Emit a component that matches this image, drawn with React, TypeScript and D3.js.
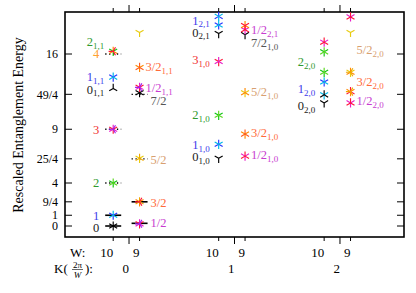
import React, { useRef, useEffect } from 'react';
import * as d3 from 'd3';

const width = 416;
const height = 293;

// momentum sectors and system widths
const kValues = [0, 1, 2];
const wValues = [10, 9];

const yTickValues = [0, 1, 9 / 4, 4, 25 / 4, 9, 49 / 4, 16];
const yTickLabels = ['0', '1', '9/4', '4', '25/4', '9', '49/4', '16'];

const C = {
  black: '#000000',
  blue: '#2436ff',
  cyan: '#00b8e8',
  green: '#12c412',
  lime: '#5ad81e',
  red: '#ff1438',
  magenta: '#e81cc8',
  purple: '#a020f0',
  orange: '#ff8a00',
  orangered: '#ff5a1e',
  yellow: '#e8cc10',
  gold: '#f0a800',
};

// [K, W, value, colours, base orientation]
const markers: [number, number, number, string[], string][] = [
  [0, 10, 0, [C.black, C.black], 'down'],
  [0, 10, 1, [C.blue, C.cyan], 'down'],
  [0, 10, 4, [C.green, C.lime], 'down'],
  [0, 10, 9, [C.red, C.magenta, C.purple], 'down'],
  [0, 10, 16.25, [C.green, C.orange, C.red], 'down'],
  [0, 10, 13.85, [C.blue, C.cyan], 'down'],
  [0, 10, 12.8, [C.black], 'up'],
  [0, 9, 0.2, [C.red, C.magenta, C.purple], 'down'],
  [0, 9, 2.25, [C.orange, C.gold, C.red], 'down'],
  [0, 9, 6.3, [C.yellow, C.gold], 'down'],
  [0, 9, 12.4, [C.black, C.black], 'down'],
  [0, 9, 12.9, [C.red, C.magenta, C.purple], 'down'],
  [0, 9, 14.75, [C.orange, C.orangered], 'down'],
  [0, 9, 18.0, [C.yellow], 'down'],
  [1, 10, 6.3, [C.black], 'down'],
  [1, 10, 7.6, [C.blue, C.cyan], 'up'],
  [1, 10, 10.3, [C.green, C.lime], 'down'],
  [1, 10, 15.3, [C.red, C.magenta], 'down'],
  [1, 10, 17.9, [C.black], 'down'],
  [1, 10, 18.7, [C.blue, C.cyan], 'down'],
  [1, 10, 19.5, [C.blue, C.cyan], 'up'],
  [1, 9, 6.5, [C.magenta, C.red], 'down'],
  [1, 9, 8.55, [C.orange, C.orangered], 'down'],
  [1, 9, 12.4, [C.yellow, C.orange], 'down'],
  [1, 9, 17.8, [C.black], 'down'],
  [1, 9, 18.25, [C.magenta, C.red], 'down'],
  [1, 9, 18.65, [C.orange, C.red], 'up'],
  [2, 10, 11.45, [C.black], 'down'],
  [2, 10, 12.2, [C.cyan, C.black], 'down'],
  [2, 10, 13.4, [C.blue, C.cyan], 'down'],
  [2, 10, 14.3, [C.green, C.lime], 'down'],
  [2, 10, 16.2, [C.green, C.lime], 'down'],
  [2, 10, 17.1, [C.magenta, C.red], 'down'],
  [2, 9, 11.45, [C.magenta, C.red], 'down'],
  [2, 9, 12.5, [C.orange, C.red, C.gold], 'down'],
  [2, 9, 14.3, [C.yellow, C.orange, C.gold], 'down'],
  [2, 9, 18.0, [C.yellow], 'down'],
  [2, 9, 19.45, [C.magenta, C.red], 'down'],
];

// CFT reference levels: [K, W, value, style]
const refLines: [number, number, number, string][] = [
  [0, 10, 0, 'solid'],
  [0, 10, 1, 'solid'],
  [0, 10, 4, 'dot'],
  [0, 10, 9, 'dot'],
  [0, 10, 16, 'dot'],
  [0, 9, 0.25, 'solid'],
  [0, 9, 2.25, 'solid'],
  [0, 9, 6.25, 'dot'],
  [0, 9, 12.25, 'dot'],
];

const L = {
  black: '#1a1a1a',
  blue: '#3b3bea',
  green: '#2f9a2f',
  red: '#f03232',
  orange: '#ffa030',
  orangered: '#ff6a3a',
  tan: '#d8a070',
  magenta: '#c83cd0',
  gray: '#555555',
};

// level labels: [K, W, value, main, subscript, colour]
const labels: [number, number, number, string, string, string][] = [
  [0, 10, 17.12, '2', '1,1', L.green],
  [0, 10, 16.0, '4', '', L.orange],
  [0, 10, 13.86, '1', '1,1', L.blue],
  [0, 10, 12.7, '0', '1,1', L.black],
  [0, 10, 8.93, '3', '', L.red],
  [0, 10, 4.0, '2', '', L.green],
  [0, 10, 0.93, '1', '', L.blue],
  [0, 10, -0.14, '0', '', L.black],
  [0, 9, 14.79, '3/2', '1,1', L.orangered],
  [0, 9, 12.84, '1/2', '1,1', L.magenta],
  [0, 9, 11.63, '7/2', '', L.gray],
  [0, 9, 6.14, '5/2', '', L.tan],
  [0, 9, 2.14, '3/2', '', L.orangered],
  [0, 9, 0.28, '1/2', '', L.magenta],
  [1, 10, 19.1, '1', '2,1', L.blue],
  [1, 10, 18.0, '0', '2,1', L.black],
  [1, 10, 15.44, '3', '1,0', L.red],
  [1, 10, 10.33, '2', '1,0', L.green],
  [1, 10, 7.53, '1', '1,0', L.blue],
  [1, 10, 6.42, '0', '1,0', L.black],
  [1, 9, 18.23, '1/2', '2,1', L.magenta],
  [1, 9, 17.02, '7/2', '1,0', L.gray],
  [1, 9, 12.47, '5/2', '1,0', L.tan],
  [1, 9, 8.65, '3/2', '1,0', L.orangered],
  [1, 9, 6.6, '1/2', '1,0', L.magenta],
  [2, 10, 15.26, '2', '2,0', L.green],
  [2, 10, 12.74, '1', '2,0', L.blue],
  [2, 10, 11.16, '0', '2,0', L.black],
  [2, 9, 16.37, '5/2', '2,0', L.tan],
  [2, 9, 13.4, '3/2', '2,0', L.orangered],
  [2, 9, 11.63, '1/2', '2,0', L.magenta],
];

const font = '"Liberation Serif", "DejaVu Serif", serif';

export default function App() {
  const ref = useRef<SVGSVGElement>(null);

  useEffect(() => {
    const svg = d3.select(ref.current);
    svg.selectAll('*').remove();

    const left = 65, right = 404, top = 12, bottom = 237;

    const x = d3.scaleLinear().domain([-0.607, 2.607]).range([left, right]);
    const wShift = d3.scaleLinear().domain([9, 10]).range([0.1, -0.15]);
    const y = d3.scaleLinear().domain([-1.023, 19.907]).range([bottom, top]);
    const colX = (k: number, w: number) => x(k + wShift(w));

    const g = svg.append('g');

    // frame
    g.append('rect')
      .attr('x', left).attr('y', top)
      .attr('width', right - left).attr('height', bottom - top)
      .attr('fill', 'none').attr('stroke', '#000').attr('stroke-width', 1.6);

    // y ticks inside on both sides
    yTickValues.forEach((v, i) => {
      g.append('line').attr('x1', left).attr('x2', left + 7)
        .attr('y1', y(v)).attr('y2', y(v)).attr('stroke', '#000').attr('stroke-width', 1);
      g.append('line').attr('x1', right - 7).attr('x2', right)
        .attr('y1', y(v)).attr('y2', y(v)).attr('stroke', '#000').attr('stroke-width', 1);
      g.append('text').attr('x', left - 7).attr('y', y(v) + 4.2)
        .attr('text-anchor', 'end').attr('font-family', font).attr('font-size', 12)
        .text(yTickLabels[i]);
    });

    // x ticks outside top and bottom
    kValues.forEach(k => {
      [bottom, top].forEach(edge => {
        const dir = edge === bottom ? 1 : -1;
        g.append('line').attr('x1', x(k)).attr('x2', x(k))
          .attr('y1', edge).attr('y2', edge + dir * 7)
          .attr('stroke', '#000').attr('stroke-width', 1);
        wValues.forEach(w => {
          g.append('line').attr('x1', colX(k, w)).attr('x2', colX(k, w))
            .attr('y1', edge).attr('y2', edge + dir * 4)
            .attr('stroke', '#000').attr('stroke-width', 1);
        });
      });
      wValues.forEach(w => {
        g.append('text').attr('x', colX(k, w)).attr('y', 257)
          .attr('text-anchor', 'end').attr('font-family', font).attr('font-size', 13)
          .text(String(w));
      });
      g.append('text').attr('x', x(k)).attr('y', 273)
        .attr('text-anchor', 'end').attr('font-family', font).attr('font-size', 13)
        .text(String(k));
    });

    // row captions
    g.append('text').attr('x', 70).attr('y', 257)
      .attr('font-family', font).attr('font-size', 13).text('W:');
    g.append('text').attr('x', 54).attr('y', 273)
      .attr('font-family', font).attr('font-size', 13).text('K(');
    g.append('text').attr('x', 77.5).attr('y', 267.5).attr('text-anchor', 'middle')
      .attr('font-family', font).attr('font-size', 9).text('2π');
    g.append('line').attr('x1', 72).attr('x2', 83).attr('y1', 269.5).attr('y2', 269.5)
      .attr('stroke', '#000').attr('stroke-width', 0.6);
    g.append('text').attr('x', 77.5).attr('y', 278).attr('text-anchor', 'middle')
      .attr('font-family', font).attr('font-size', 9).attr('font-style', 'italic').text('W');
    g.append('text').attr('x', 85).attr('y', 273)
      .attr('font-family', font).attr('font-size', 13).text('):');

    // y title
    g.append('text')
      .attr('transform', `translate(23,125) rotate(-90)`)
      .attr('text-anchor', 'middle').attr('font-family', font).attr('font-size', 14)
      .text('Rescaled Entanglement Energy');

    // reference levels
    refLines.forEach(([k, w, v, style]) => {
      const cx = colX(k, w);
      g.append('line').attr('x1', cx - 8).attr('x2', cx + 8)
        .attr('y1', y(v)).attr('y2', y(v))
        .attr('stroke', '#000')
        .attr('stroke-width', style === 'solid' ? 1.6 : 1.3)
        .attr('stroke-dasharray', style === 'solid' ? null : '1.3,2.6');
    });

    // tri markers
    const arm = 4.6;
    const triPath = (rot: number) => {
      const angles = [-60, 60, 180].map(a => ((a + rot) * Math.PI) / 180);
      return angles.map(a => `M0,0L${arm * Math.sin(a)},${-arm * Math.cos(a)}`).join('');
    };
    const extraRot = [0, 180, 90, 30];
    markers.forEach(([k, w, v, colors, kind]) => {
      const base = kind === 'up' ? 180 : 0;
      colors.forEach((c, i) => {
        g.append('path')
          .attr('transform', `translate(${colX(k, w)},${y(v)})`)
          .attr('d', triPath(base + extraRot[i]))
          .attr('fill', 'none').attr('stroke', c).attr('stroke-width', 1.15);
      });
    });

    // level labels
    labels.forEach(([k, w, v, main, sub, color]) => {
      const onLeft = w === 10;
      const gap = sub ? (onLeft ? 9 : 6) : (onLeft ? 14 : 11);
      const t = g.append('text')
        .attr('x', colX(k, w) + (onLeft ? -gap : gap))
        .attr('y', y(v) + 4.2)
        .attr('text-anchor', onLeft ? 'end' : 'start')
        .attr('font-family', font).attr('font-size', 12.5)
        .attr('fill', color);
      t.append('tspan').text(main);
      if (sub) {
        t.append('tspan').attr('dy', 2.5).attr('font-size', 9).text(sub);
      }
    });
  }, []);

  return (
    <svg ref={ref} width={width} height={height}
      style={{ position: 'absolute', left: 0, top: 0, background: '#fff' }} />
  );
}
